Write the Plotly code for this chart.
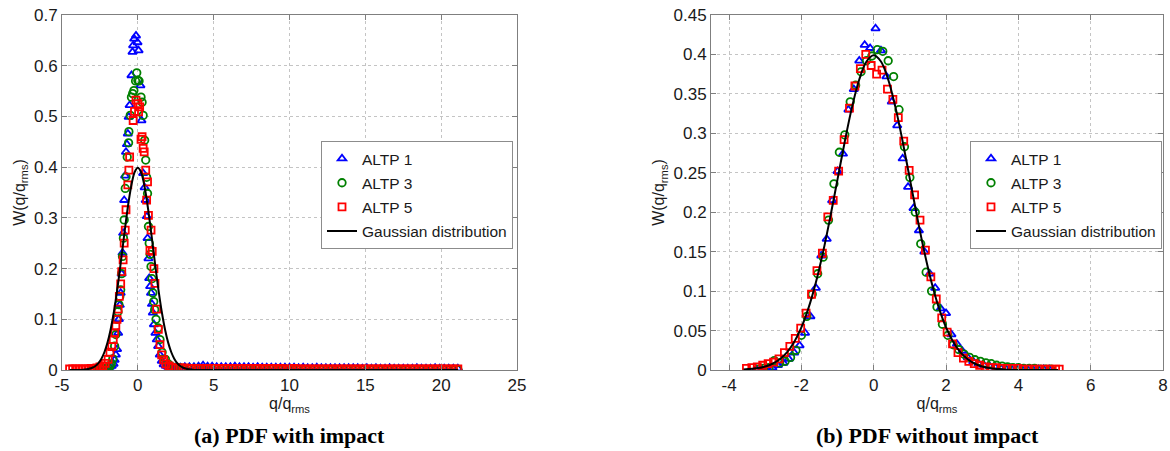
import plotly.graph_objects as go

# ---------------- data: (a) PDF with impact ----------------
a1_x = [-2.6, -2.45, -2.3, -2.15, -2.0, -1.85, -1.72, -1.6, -1.53, -1.45, -1.37, -1.3, -1.25, -1.19, -1.13,
        -1.07, -1.01, -0.97, -0.9, -0.84, -0.78, -0.72, -0.66, -0.6, -0.54, -0.42, -0.35, -0.31, -0.24, -0.12,
        -0.02, 0.05, 0.17, 0.24, 0.35, 0.45, 0.52, 0.59, 0.64, 0.7, 0.75, 0.81, 0.87, 0.93, 0.99, 1.06, 1.16,
        1.25, 1.34, 1.45, 1.58, 1.7, 1.85, 2.0, 2.15, 2.3]
a1_y = [0.001, 0.002, 0.002, 0.003, 0.004, 0.006, 0.008, 0.012, 0.02, 0.03, 0.041, 0.073, 0.10, 0.128, 0.152,
        0.19, 0.231, 0.27, 0.335, 0.383, 0.43, 0.445, 0.466, 0.499, 0.522, 0.581, 0.627, 0.64, 0.653, 0.659,
        0.646, 0.63, 0.561, 0.492, 0.388, 0.36, 0.335, 0.303, 0.26, 0.22, 0.181, 0.165, 0.152, 0.13, 0.113, 0.09,
        0.073, 0.06, 0.047, 0.03, 0.018, 0.011, 0.008, 0.006, 0.005, 0.005]

a3_x = [-3.0, -2.8, -2.6, -2.4, -2.25, -2.1, -1.96, -1.85, -1.75, -1.65, -1.53, -1.45, -1.37, -1.31, -1.25,
        -1.19, -1.13, -1.07, -1.01, -0.95, -0.9, -0.83, -0.78, -0.7, -0.61, -0.59, -0.5, -0.42, -0.34, -0.26,
        -0.15, -0.07, 0.0, 0.08, 0.21, 0.28, 0.35, 0.45, 0.52, 0.58, 0.64, 0.7, 0.75, 0.81, 0.87, 0.93, 0.99,
        1.05, 1.11, 1.2, 1.34, 1.46, 1.6, 1.82, 2.0, 2.2, 2.4]
a3_y = [0.001, 0.001, 0.002, 0.002, 0.003, 0.003, 0.004, 0.007, 0.012, 0.022, 0.047, 0.07, 0.10, 0.115, 0.129,
        0.145, 0.158, 0.19, 0.224, 0.26, 0.296, 0.358, 0.381, 0.42, 0.448, 0.47, 0.502, 0.538, 0.545, 0.551,
        0.57, 0.586, 0.571, 0.57, 0.538, 0.528, 0.502, 0.453, 0.414, 0.38, 0.348, 0.283, 0.25, 0.228, 0.204,
        0.18, 0.152, 0.135, 0.119, 0.1, 0.083, 0.06, 0.035, 0.021, 0.012, 0.007, 0.005]

a5_x = [-4.5, -4.3, -4.1, -3.9, -3.7, -3.5, -3.3, -3.1, -2.9, -2.7, -2.5, -2.31, -2.15, -1.96, -1.84, -1.72,
        -1.62, -1.53, -1.45, -1.37, -1.3, -1.22, -1.13, -1.06, -0.97, -0.9, -0.83, -0.78, -0.66, -0.59, -0.54,
        -0.31, -0.22, -0.12, 0.0, 0.05, 0.12, 0.21, 0.28, 0.35, 0.42, 0.52, 0.58, 0.64, 0.7, 0.8, 0.87, 0.95,
        1.06, 1.13, 1.24, 1.35, 1.46, 1.57, 1.7, 1.85, 2.05, 2.2]
a5_y = [0.002, 0.002, 0.002, 0.002, 0.002, 0.002, 0.002, 0.003, 0.003, 0.004, 0.006, 0.008, 0.013, 0.021, 0.035,
        0.046, 0.06, 0.073, 0.087, 0.10, 0.12, 0.145, 0.17, 0.194, 0.217, 0.25, 0.276, 0.316, 0.365, 0.394, 0.42,
        0.492, 0.51, 0.532, 0.525, 0.509, 0.519, 0.455, 0.46, 0.437, 0.43, 0.394, 0.335, 0.371, 0.305, 0.236,
        0.276, 0.234, 0.2, 0.171, 0.12, 0.08, 0.05, 0.03, 0.02, 0.012, 0.008, 0.005]

# long impact tail, shared bin centres
tail_x = [2.5, 2.8, 3.1, 3.4, 3.7, 4.0, 4.3, 4.6, 4.9, 5.2, 5.5, 5.8, 6.1, 6.4, 6.7, 7.0, 7.3, 7.6, 7.9, 8.2,
          8.5, 8.8, 9.1, 9.4, 9.7, 10.0, 10.3, 10.6, 10.9, 11.2, 11.5, 11.8, 12.1, 12.4, 12.7, 13.0, 13.3, 13.6,
          13.9, 14.2, 14.5, 14.8, 15.1, 15.4, 15.7, 16.0, 16.3, 16.6, 16.9, 17.2, 17.5, 17.8, 18.1, 18.4, 18.7,
          19.0, 19.3, 19.6, 19.9, 20.2, 20.5, 20.8, 21.1]
tail1_y = [0.005, 0.005, 0.006, 0.006, 0.006, 0.007, 0.009, 0.007, 0.007, 0.006, 0.006, 0.006, 0.006, 0.007,
           0.006, 0.006, 0.006, 0.005, 0.006, 0.005, 0.005, 0.005, 0.005, 0.005, 0.005, 0.005, 0.005, 0.004,
           0.005, 0.004, 0.004, 0.005, 0.004, 0.004, 0.004, 0.004, 0.004, 0.004, 0.004, 0.004, 0.004, 0.003,
           0.004, 0.003, 0.004, 0.003, 0.003, 0.004, 0.003, 0.003, 0.003, 0.003, 0.003, 0.004, 0.003, 0.003,
           0.003, 0.004, 0.003, 0.003, 0.003, 0.003, 0.003]
tail3_y = [0.004, 0.004, 0.003, 0.003, 0.003, 0.003, 0.002, 0.003, 0.002, 0.002, 0.002, 0.002, 0.002, 0.002,
           0.002, 0.002, 0.002, 0.001, 0.002, 0.002, 0.001, 0.002, 0.001, 0.001, 0.002, 0.001, 0.001, 0.001,
           0.001, 0.001, 0.001, 0.001, 0.001, 0.001, 0.001, 0.001, 0.001, 0.001, 0.001, 0.001, 0.001, 0.001,
           0.0, 0.001, 0.001, 0.001, 0.001, 0.0, 0.001, 0.001, 0.0, 0.001, 0.001, 0.001, 0.001, 0.001, 0.001,
           0.001, 0.001, 0.001, 0.001, 0.001, 0.001]
tail5_y = [0.004, 0.004, 0.004, 0.003, 0.003, 0.003, 0.003, 0.003, 0.003, 0.003, 0.003, 0.003, 0.003, 0.003,
           0.003, 0.003, 0.003, 0.003, 0.003, 0.002, 0.003, 0.003, 0.002, 0.003, 0.002, 0.002, 0.003, 0.002,
           0.002, 0.002, 0.002, 0.002, 0.002, 0.002, 0.002, 0.002, 0.002, 0.002, 0.002, 0.002, 0.002, 0.002,
           0.002, 0.002, 0.002, 0.002, 0.002, 0.002, 0.002, 0.002, 0.002, 0.002, 0.002, 0.002, 0.002, 0.002,
           0.002, 0.002, 0.002, 0.002, 0.002, 0.002, 0.002]

# ---------------- data: (b) PDF without impact ----------------
b1_x = [-3.25, -3.1, -2.95, -2.8, -2.65, -2.5, -2.35, -2.2, -2.05, -1.9, -1.75, -1.6, -1.45, -1.3, -1.15, -1.0,
        -0.85, -0.7, -0.55, -0.4, -0.25, -0.1, 0.05, 0.2, 0.35, 0.5, 0.65, 0.8, 0.95, 1.1, 1.25, 1.4, 1.55, 1.7,
        1.85, 2.0, 2.15, 2.3, 2.45, 2.6, 2.75, 2.9, 3.05, 3.2, 3.35, 3.5, 3.65, 3.8, 3.95, 4.1, 4.25, 4.4, 4.55,
        4.7, 4.85]
b1_y = [0.001, 0.001, 0.002, 0.003, 0.006, 0.009, 0.014, 0.022, 0.031, 0.047, 0.068, 0.104, 0.145, 0.166, 0.215,
        0.252, 0.274, 0.330, 0.356, 0.392, 0.412, 0.408, 0.433, 0.405, 0.372, 0.340, 0.310, 0.268, 0.232, 0.205,
        0.177, 0.150, 0.122, 0.104, 0.078, 0.072, 0.045, 0.033, 0.024, 0.016, 0.011, 0.008, 0.006, 0.005, 0.004,
        0.003, 0.002, 0.002, 0.002, 0.001, 0.001, 0.001, 0.001, 0.001, 0.001]

b3_x = [-3.2, -3.05, -2.9, -2.75, -2.6, -2.45, -2.3, -2.15, -2.0, -1.85, -1.7, -1.55, -1.4, -1.25, -1.1, -0.95,
        -0.8, -0.65, -0.5, -0.35, -0.2, -0.05, 0.1, 0.25, 0.4, 0.55, 0.7, 0.85, 1.0, 1.15, 1.3, 1.45, 1.6, 1.75,
        1.9, 2.05, 2.2, 2.35, 2.5, 2.65, 2.8, 2.95, 3.1, 3.25, 3.4, 3.55, 3.7, 3.85, 4.0, 4.15, 4.3, 4.45, 4.6,
        4.75, 4.9]
b3_y = [0.001, 0.002, 0.003, 0.012, 0.009, 0.011, 0.016, 0.025, 0.044, 0.068, 0.096, 0.122, 0.143, 0.190, 0.236,
        0.276, 0.298, 0.340, 0.361, 0.378, 0.392, 0.398, 0.406, 0.404, 0.392, 0.372, 0.330, 0.283, 0.244, 0.200,
        0.160, 0.124, 0.100, 0.080, 0.058, 0.044, 0.032, 0.026, 0.020, 0.016, 0.013, 0.011, 0.009, 0.008, 0.006,
        0.005, 0.004, 0.003, 0.003, 0.002, 0.002, 0.002, 0.001, 0.001, 0.001]

b5_x = [-3.52, -3.37, -3.22, -3.07, -2.92, -2.77, -2.62, -2.47, -2.32, -2.17, -2.02, -1.87, -1.72, -1.57, -1.42,
        -1.27, -1.12, -0.97, -0.82, -0.67, -0.52, -0.37, -0.22, -0.07, 0.08, 0.23, 0.38, 0.53, 0.68, 0.83, 0.98,
        1.13, 1.28, 1.43, 1.58, 1.73, 1.88, 2.03, 2.18, 2.33, 2.48, 2.63, 2.78, 2.93, 3.08, 3.23, 3.38, 3.53,
        3.68, 3.83, 3.98, 4.13, 4.28, 4.43, 4.58, 4.73, 4.88, 5.03, 5.13]
b5_y = [0.002, 0.003, 0.004, 0.006, 0.008, 0.010, 0.014, 0.022, 0.030, 0.040, 0.053, 0.072, 0.096, 0.126, 0.148,
        0.194, 0.215, 0.252, 0.292, 0.332, 0.360, 0.382, 0.400, 0.386, 0.375, 0.380, 0.356, 0.343, 0.320, 0.290,
        0.253, 0.222, 0.190, 0.152, 0.118, 0.090, 0.066, 0.048, 0.033, 0.022, 0.015, 0.011, 0.008, 0.006, 0.004,
        0.003, 0.003, 0.002, 0.002, 0.002, 0.002, 0.001, 0.001, 0.001, 0.001, 0.001, 0.001, 0.001, 0.001]

# Gaussian reference curve (standard normal density, tabulated)
gauss_x = [-4.5, -4.0, -3.6, -3.2, -3.0, -2.8, -2.6, -2.4, -2.2, -2.0, -1.8, -1.6, -1.4, -1.2, -1.0, -0.8, -0.6,
           -0.4, -0.2, 0.0, 0.2, 0.4, 0.6, 0.8, 1.0, 1.2, 1.4, 1.6, 1.8, 2.0, 2.2, 2.4, 2.6, 2.8, 3.0, 3.2, 3.6,
           4.0, 4.5, 5.1, 21.1]
gauss_y = [0.00002, 0.0001, 0.0006, 0.0024, 0.0044, 0.0079, 0.0136, 0.0224, 0.0355, 0.0540, 0.0790, 0.1109,
           0.1497, 0.1942, 0.2420, 0.2897, 0.3332, 0.3683, 0.3910, 0.3989, 0.3910, 0.3683, 0.3332, 0.2897, 0.2420,
           0.1942, 0.1497, 0.1109, 0.0790, 0.0540, 0.0355, 0.0224, 0.0136, 0.0079, 0.0044, 0.0024, 0.0006, 0.0001,
           0.00002, 0.0, 0.0]

series_names = ["ALTP 1", "ALTP 3", "ALTP 5", "Gaussian distribution"]
a_xticks = [-5, 0, 5, 10, 15, 20, 25]
a_xtick_text = ["-5", "0", "5", "10", "15", "20", "25"]
b_xticks = [-4, -2, 0, 2, 4, 6, 8]
b_xtick_text = ["-4", "-2", "0", "2", "4", "6", "8"]
a_yticks = [0, 0.1, 0.2, 0.3, 0.4, 0.5, 0.6, 0.7]
b_yticks = [0, 0.05, 0.1, 0.15, 0.2, 0.25, 0.3, 0.35, 0.4, 0.45]
captions = ["(a) PDF with impact", "(b) PDF without impact"]

# ---------------- figure ----------------
W, H = 1170, 451


def px(v):
    return v / W


def py(v):
    return 1 - v / H


colors = ["#0000ff", "#008000", "#ff0000"]
symbols = ["triangle-up-open", "circle-open", "square-open"]
sizes = [7.5, 7.5, 7]

fig = go.Figure()


def add_panel(xs, ys, gx, gy, xa, ya, legend, tag):
    for i in range(3):
        fig.add_trace(go.Scatter(
            x=xs[i], y=ys[i], mode="markers", name=series_names[i], legendgroup=tag + str(i),
            marker=dict(symbol=symbols[i], size=sizes[i], color=colors[i], line=dict(width=1.8, color=colors[i])),
            xaxis=xa, yaxis=ya, legend=legend))
    fig.add_trace(go.Scatter(
        x=gx, y=gy, mode="lines", name=series_names[3], legendgroup=tag + "3",
        line=dict(color="black", width=2, shape="spline"),
        xaxis=xa, yaxis=ya, legend=legend))


add_panel([a1_x + tail_x, a3_x + tail_x, a5_x + tail_x],
          [a1_y + tail1_y, a3_y + tail3_y, a5_y + tail5_y],
          gauss_x, gauss_y, "x", "y", "legend", "a")

gb = [(x, y) for x, y in zip(gauss_x, gauss_y) if -3.6 <= x <= 5.1]
add_panel([b1_x, b3_x, b5_x], [b1_y, b3_y, b5_y],
          [p[0] for p in gb], [p[1] for p in gb], "x2", "y2", "legend2", "b")

font_tick = dict(family="Liberation Sans, Arial, sans-serif", size=17, color="#1a1a1a")
title_font = dict(family="Liberation Sans, Arial, sans-serif", size=16, color="#1a1a1a")
axcommon = dict(showline=True, linecolor="#7f7f7f", linewidth=1, mirror="allticks", ticks="inside",
                ticklen=5, tickcolor="#7f7f7f", showgrid=True, gridcolor="#c4c4c4", griddash="dot",
                gridwidth=1, zeroline=False, tickfont=font_tick, automargin=False,
                ticklabeloverflow="allow")

ydom = [py(370), py(15)]
legend_common = dict(xanchor="left", yanchor="top", bgcolor="white", bordercolor="#8c8c8c", borderwidth=1,
                     font=dict(size=15.5), tracegroupgap=1, itemclick=False)
fig.update_layout(
    width=W, height=H, margin=dict(l=0, r=0, t=0, b=0),
    paper_bgcolor="white", plot_bgcolor="white",
    font=dict(family="Liberation Sans, Arial, sans-serif", size=16, color="#1a1a1a"),
    xaxis=dict(domain=[px(62), px(517)], range=[-5, 25], tickvals=a_xticks, ticktext=a_xtick_text,
               title=dict(text="q/q<sub>rms</sub>", standoff=2, font=title_font), anchor="y", **axcommon),
    yaxis=dict(domain=ydom, range=[0, 0.7], tickvals=a_yticks,
               title=dict(text="W(q/q<sub>rms</sub>)", standoff=4, font=title_font), anchor="x", **axcommon),
    xaxis2=dict(domain=[px(711), px(1163)], range=[-4.5, 8], tickvals=b_xticks, ticktext=b_xtick_text,
                title=dict(text="q/q<sub>rms</sub>", standoff=2, font=title_font), anchor="y2", **axcommon),
    yaxis2=dict(domain=ydom, range=[0, 0.45], tickvals=b_yticks,
                title=dict(text="W(q/q<sub>rms</sub>)", standoff=4, font=title_font), anchor="x2", **axcommon),
    legend=dict(x=px(321), y=py(141), **legend_common),
    legend2=dict(x=px(970), y=py(141), **legend_common),
    annotations=[
        dict(text="<b>" + captions[0] + "</b>", x=px(289), y=py(435), xref="paper", yref="paper",
             showarrow=False, xanchor="center", yanchor="middle",
             font=dict(family="Liberation Serif, Times New Roman, serif", size=22, color="black")),
        dict(text="<b>" + captions[1] + "</b>", x=px(927), y=py(435), xref="paper", yref="paper",
             showarrow=False, xanchor="center", yanchor="middle",
             font=dict(family="Liberation Serif, Times New Roman, serif", size=22, color="black")),
    ],
)

# remove the browser's default 8px body margin so the figure fills the window exactly
fig.write_html("out.html", config={"displayModeBar": False},
               post_script="document.body.style.margin='0';document.body.style.overflow='hidden';")
